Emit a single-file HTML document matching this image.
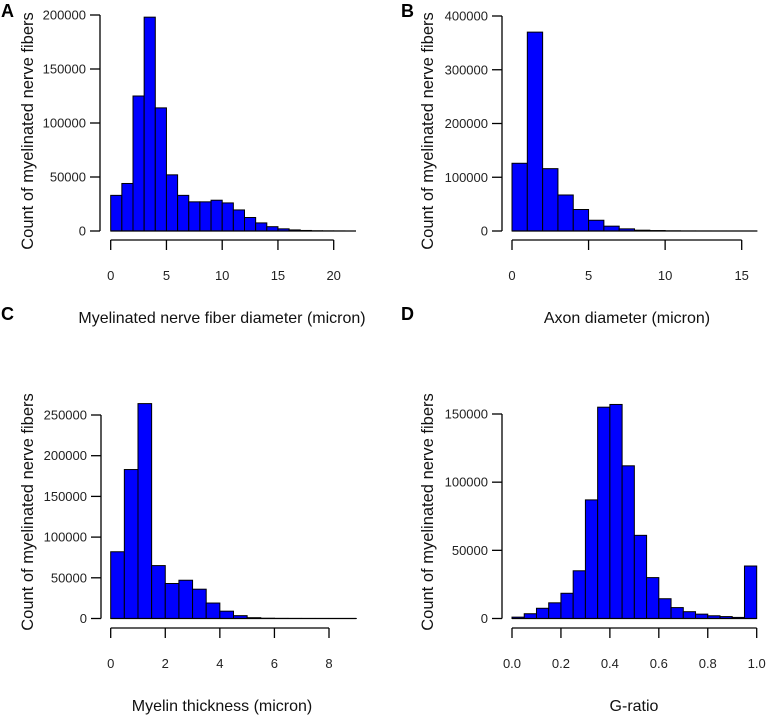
<!DOCTYPE html>
<html><head><meta charset="utf-8"><style>
html,body{margin:0;padding:0;background:#fff;}
svg{display:block;font-family:"Liberation Sans",Arial,sans-serif;}
</style></head><body>
<svg id="fig" width="767" height="716" viewBox="0 0 767 716"></svg>
<script>
// Panel A: myelinated nerve fiber diameter (bin width 1)
const aBinStart = 0, aBinWidth = 1;
const aCounts = [33000,44000,125000,198000,114000,52000,33000,27000,27000,28500,26000,19500,12500,7500,4000,2000,1000,500,200,100,50,0];
const aXTicks = [0,5,10,15,20];
const aYTicks = [0,50000,100000,150000,200000];
// Panel B: axon diameter (bin width 1)
const bBinStart = 0, bBinWidth = 1;
const bCounts = [126000,370000,116000,67000,40000,20000,9000,4000,1500,800,300,100,50,20,10,5];
const bXTicks = [0,5,10,15];
const bYTicks = [0,100000,200000,300000,400000];
// Panel C: myelin thickness (bin width 0.5)
const cBinStart = 0, cBinWidth = 0.5;
const cCounts = [82000,183000,264000,65000,43000,47000,36000,19000,9000,3500,1000,300,100,50,20,10,5,2];
const cXTicks = [0,2,4,6,8];
const cYTicks = [0,50000,100000,150000,200000,250000];
// Panel D: G-ratio (bin width 0.05)
const dBinStart = 0, dBinWidth = 0.05;
const dCounts = [1000,3500,7500,11500,18500,35000,87000,155000,157000,112000,61000,30000,14500,8000,5000,3200,2000,1400,800,38500];
const dXTicks = [0,0.2,0.4,0.6,0.8,1.0];
const dXTickLabels = ["0.0","0.2","0.4","0.6","0.8","1.0"];
const dYTicks = [0,50000,100000,150000];

const NS = "http://www.w3.org/2000/svg";
const svg = document.getElementById("fig");
function mk(tag, attrs, parent){
  const e = document.createElementNS(NS, tag);
  for (const k in attrs) e.setAttribute(k, attrs[k]);
  (parent||svg).appendChild(e);
  return e;
}
function panel(cfg){
  const g = mk("g", {});
  
  
  const xs = v => cfg.x0 + (v - cfg.xmin) * (cfg.x1 - cfg.x0) / (cfg.xmax - cfg.xmin);
  const ys = v => cfg.y0 - v * (cfg.y0 - cfg.y1) / cfg.ymax;
  // bars
  cfg.counts.forEach((c, i) => {
    const l = xs(cfg.start + i * cfg.width), r = xs(cfg.start + (i + 1) * cfg.width);
    const t = ys(c);
    const rect = mk("rect", {x: l, y: t, width: r - l, height: cfg.y0 - t, fill: "#0000ff", stroke: "#000", "stroke-width": 1}, g);
    
    
  });
  // baseline
  const endX = xs(cfg.start + cfg.counts.length * cfg.width);
  const bl = mk("line", {x1: xs(cfg.start), x2: endX, y1: cfg.y0, y2: cfg.y0, stroke: "#000", "stroke-width": 1.3}, g);
  
  
  // y axis
  const ya = mk("g", {}, g);
  
  
  mk("line", {x1: cfg.yax, x2: cfg.yax, y1: ys(cfg.yTicks[0]), y2: ys(cfg.yTicks[cfg.yTicks.length-1]), stroke: "#000", "stroke-width": 1.3}, ya);
  cfg.yTicks.forEach(v => {
    mk("line", {x1: cfg.yax - 10, x2: cfg.yax, y1: ys(v), y2: ys(v), stroke: "#000", "stroke-width": 1.3}, ya);
    const t = mk("text", {x: cfg.yax - 14, y: ys(v) + 4.5, "text-anchor": "end", "font-size": 13, fill: "#222"}, ya);
    t.textContent = String(v);
    
    
  });
  // x axis
  const xa = mk("g", {}, g);
  
  
  mk("line", {x1: xs(cfg.xTicks[0]), x2: xs(cfg.xTicks[cfg.xTicks.length-1]), y1: cfg.xay, y2: cfg.xay, stroke: "#000", "stroke-width": 1.3}, xa);
  cfg.xTicks.forEach((v, i) => {
    mk("line", {x1: xs(v), x2: xs(v), y1: cfg.xay, y2: cfg.xay + 10, stroke: "#000", "stroke-width": 1.3}, xa);
    const t = mk("text", {x: xs(v), y: cfg.xay + 40, "text-anchor": "middle", "font-size": 13, fill: "#222"}, xa);
    t.textContent = cfg.xLabels ? cfg.xLabels[i] : String(v);
    
    
  });
  const xt = mk("text", {x: cfg.xtx, y: cfg.xay + 83, "text-anchor": "middle", "font-size": 16, fill: "#111"}, g);
  xt.textContent = cfg.xTitle;
  
  
  const yt = mk("text", {x: 0, y: 0, "text-anchor": "middle", "font-size": 16.5, fill: "#111", transform: "translate(" + cfg.ytx + "," + cfg.yty + ") rotate(-90)"}, g);
  yt.textContent = "Count of myelinated nerve fibers";
  
  
  const pl = mk("text", {x: cfg.lx, y: cfg.ly, "font-size": 18, "font-weight": "bold", fill: "#000"}, g);
  pl.textContent = cfg.id;
  
  
}
panel({id:"A", counts:aCounts, start:aBinStart, width:aBinWidth, xTicks:aXTicks, yTicks:aYTicks,
  x0:110.7, x1:333.7, xmin:0, xmax:20, y0:231, y1:15, ymax:200000, yax:100, xay:240,
  xTitle:"Myelinated nerve fiber diameter (micron)", xtx:222, ytx:33, yty:131, lx:1, ly:17});
panel({id:"B", counts:bCounts, start:bBinStart, width:bBinWidth, xTicks:bXTicks, yTicks:bYTicks,
  x0:512, x1:741.7, xmin:0, xmax:15, y0:231, y1:16, ymax:400000, yax:502, xay:240,
  xTitle:"Axon diameter (micron)", xtx:627, ytx:433, yty:131, lx:401, ly:17});
panel({id:"C", counts:cCounts, start:cBinStart, width:cBinWidth, xTicks:cXTicks, yTicks:cYTicks,
  x0:110.7, x1:329, xmin:0, xmax:8, y0:618.5, y1:415, ymax:250000, yax:101, xay:628,
  xTitle:"Myelin thickness (micron)", xtx:222, ytx:33, yty:512, lx:1, ly:320});
panel({id:"D", counts:dCounts, start:dBinStart, width:dBinWidth, xTicks:dXTicks, yTicks:dYTicks, xLabels:dXTickLabels,
  x0:512, x1:756.7, xmin:0, xmax:1, y0:618.5, y1:414, ymax:150000, yax:502, xay:628,
  xTitle:"G-ratio", xtx:634, ytx:433, yty:512, lx:401, ly:320});
</script>
</body></html>
